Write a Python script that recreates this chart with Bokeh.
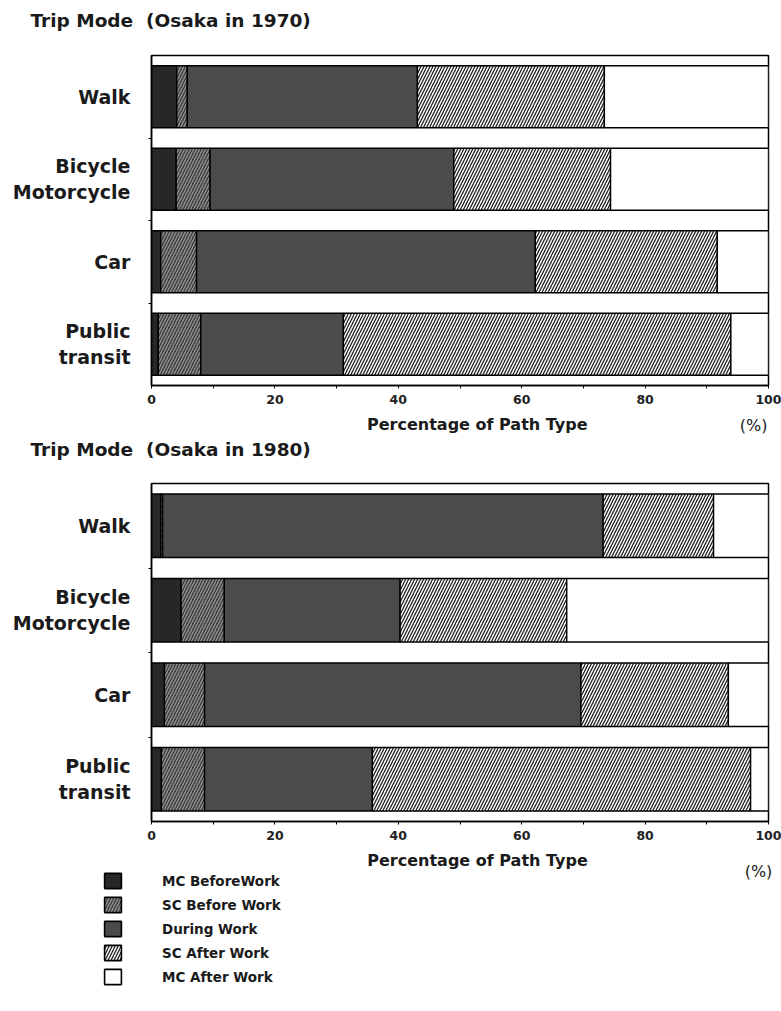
from bokeh.plotting import figure
from bokeh.models import (ColumnDataSource, Range1d, FixedTicker, Label, Legend,
                          LegendItem, Title)
from bokeh.layouts import column
from bokeh.embed import file_html
from bokeh.resources import INLINE
import numpy as np

# Trip modes (top to bottom) and path types (stack order, left to right)
modes = ["Walk", "Bicycle\nMotorcycle", "Car", "Public\ntransit"]
path_types = ["MC BeforeWork", "SC Before Work", "During Work",
              "SC After Work", "MC After Work"]
x_ticks = [0, 20, 40, 60, 80, 100]
x_minor_ticks = [10, 30, 50, 70, 90]

# Osaka 1970, percentage of path type per trip mode
mc_before_1970 = [4.1, 4.0, 1.5, 1.1]
sc_before_1970 = [1.7, 5.5, 5.8, 6.9]
during_1970 = [37.3, 39.5, 54.9, 23.1]
sc_after_1970 = [30.3, 25.4, 29.5, 62.8]
mc_after_1970 = [26.6, 25.6, 8.3, 6.1]

# Osaka 1980
mc_before_1980 = [1.5, 4.8, 2.1, 1.6]
sc_before_1980 = [0.3, 7.0, 6.5, 7.0]
during_1980 = [71.4, 28.5, 61.0, 27.2]
sc_after_1980 = [17.9, 27.0, 23.9, 61.3]
mc_after_1980 = [8.9, 32.7, 6.5, 2.9]

FONT = "DejaVu Sans"
INK = "#1a1a1a"
W = 781
FRAME_LEFT, FRAME_RIGHT = 151, 13

STYLES = [
    dict(fill_color="#272727"),
    dict(fill_color="#363636", hatch_pattern="/", hatch_color="#8e8e8e",
         hatch_scale=6, hatch_weight=1.5),
    dict(fill_color="#4b4b4b"),
    dict(fill_color="white", hatch_pattern="/", hatch_color="#1e1e1e",
         hatch_scale=6, hatch_weight=1.3),
    dict(fill_color="white"),
]


def base(height, **kw):
    p = figure(width=W, height=height, output_backend="svg",
               toolbar_location=None, **kw)
    p.grid.visible = False
    p.background_fill_color = "white"
    p.border_fill_color = "white"
    return p


def strip(height, border_top=0, border_bottom=0):
    """Blank band sharing the chart's horizontal scale, for titles and notes."""
    frame_h = height - border_top - border_bottom
    s = base(height, x_range=Range1d(0, 100), y_range=Range1d(0, frame_h),
             x_axis_location=None, y_axis_location=None,
             min_border_left=FRAME_LEFT, min_border_right=FRAME_RIGHT,
             min_border_top=border_top, min_border_bottom=border_bottom)
    s.outline_line_color = None
    return s


def heading(txt, height, border_top, standoff):
    s = strip(height, border_top=border_top)
    s.title = Title(text=txt, align="left", offset=30 - FRAME_LEFT,
                    standoff=standoff, text_font=FONT, text_font_size="18.5px",
                    text_font_style="bold", text_color=INK)
    return s


def note(s, x, y, txt, size, bold=True, baseline="alphabetic"):
    s.add_layout(Label(x=x, y=y, text=txt, text_font=FONT,
                       text_font_style="bold" if bold else "normal",
                       text_font_size=size, text_align="center",
                       text_baseline=baseline, text_color=INK))


def make_chart(series, height):
    n = len(modes)
    ypos = [n - i - 0.5 for i in range(n)]
    p = base(height, x_range=Range1d(0, 100), y_range=Range1d(0, n),
             min_border_left=FRAME_LEFT, min_border_right=FRAME_RIGHT,
             min_border_top=10, min_border_bottom=26)
    p.outline_line_color = "black"
    p.outline_line_width = 1.5

    cum = np.zeros(n)
    for vals, style in zip(series, STYLES):
        vals = np.asarray(vals, dtype=float)
        src = ColumnDataSource(dict(y=ypos, left=cum.copy(), right=cum + vals))
        p.hbar(y="y", left="left", right="right", height=0.75, source=src,
               line_color="black", line_width=1.4, **style)
        cum = cum + vals

    xa = p.xaxis[0]
    xa.ticker = FixedTicker(ticks=x_ticks, minor_ticks=x_minor_ticks)
    xa.axis_line_width = 1.5
    xa.major_tick_in = 0
    xa.major_tick_out = 3
    xa.minor_tick_in = 0
    xa.minor_tick_out = 3
    xa.major_label_standoff = 6
    xa.major_label_text_font = FONT
    xa.major_label_text_font_style = "bold"
    xa.major_label_text_font_size = "12.5px"
    xa.major_label_text_color = "#222222"

    ya = p.yaxis[0]
    ya.ticker = FixedTicker(ticks=ypos, minor_ticks=[1, 2, 3])
    ya.major_label_overrides = {y: m for y, m in zip(ypos, modes)}
    ya.axis_line_width = 1.5
    ya.major_tick_in = 0
    ya.major_tick_out = 0
    ya.minor_tick_in = 0
    ya.minor_tick_out = 3
    ya.major_label_standoff = 18
    ya.major_label_text_font = FONT
    ya.major_label_text_font_style = "bold"
    ya.major_label_text_font_size = "19px"
    ya.major_label_text_color = INK
    return p


AXIS_NOTE = "Percentage of Path Type"

# 1970 block
head1 = heading("Trip Mode\u00a0 (Osaka in 1970)", 45, 31, 2)
chart1 = make_chart([mc_before_1970, sc_before_1970, during_1970,
                     sc_after_1970, mc_after_1970], 366)
foot1 = strip(25)
note(foot1, 52.8, 12, AXIS_NOTE, "16px")
note(foot1, 97.6, 11, "(%)", "16px", bold=False, baseline="middle")

# 1980 block
head2 = heading("Trip Mode\u00a0 (Osaka in 1980)", 37, 24, 1)
chart2 = make_chart([mc_before_1980, sc_before_1980, during_1980,
                     sc_after_1980, mc_after_1980], 374)

# closing panel: axis note of the 1980 chart and the key (pixel units)
KEY_H = 164
key = base(KEY_H, x_range=Range1d(0, W), y_range=Range1d(0, KEY_H),
           x_axis_location=None, y_axis_location=None, min_border=0)
key.outline_line_color = None
note(key, 477, 151, AXIS_NOTE, "16px")
note(key, 758, 140, "(%)", "16px", bold=False, baseline="middle")

# hidden one-row swatch renderers supply the key glyphs
key_renderers = []
for style in STYLES:
    r = key.hbar(y="y", left="left", right="right", height=0,
                 source=ColumnDataSource(dict(y=[0], left=[0], right=[0])),
                 line_color="black", line_width=1.6, **style)
    r.visible = False
    key_renderers.append(r)

legend = Legend(items=[LegendItem(label=name, renderers=[r])
                       for name, r in zip(path_types, key_renderers)],
                location=(102, 25), padding=0, margin=0,
                glyph_width=21, glyph_height=19, label_height=19,
                spacing=5, label_standoff=39,
                label_text_font=FONT, label_text_font_style="bold",
                label_text_font_size="13.5px", label_text_color=INK,
                border_line_alpha=0, background_fill_alpha=0,
                inactive_fill_alpha=0)
key.add_layout(legend)

layout = column(head1, chart1, foot1, head2, chart2, spacing=0)
open("out.html", "w").write(file_html([layout, key], INLINE))
